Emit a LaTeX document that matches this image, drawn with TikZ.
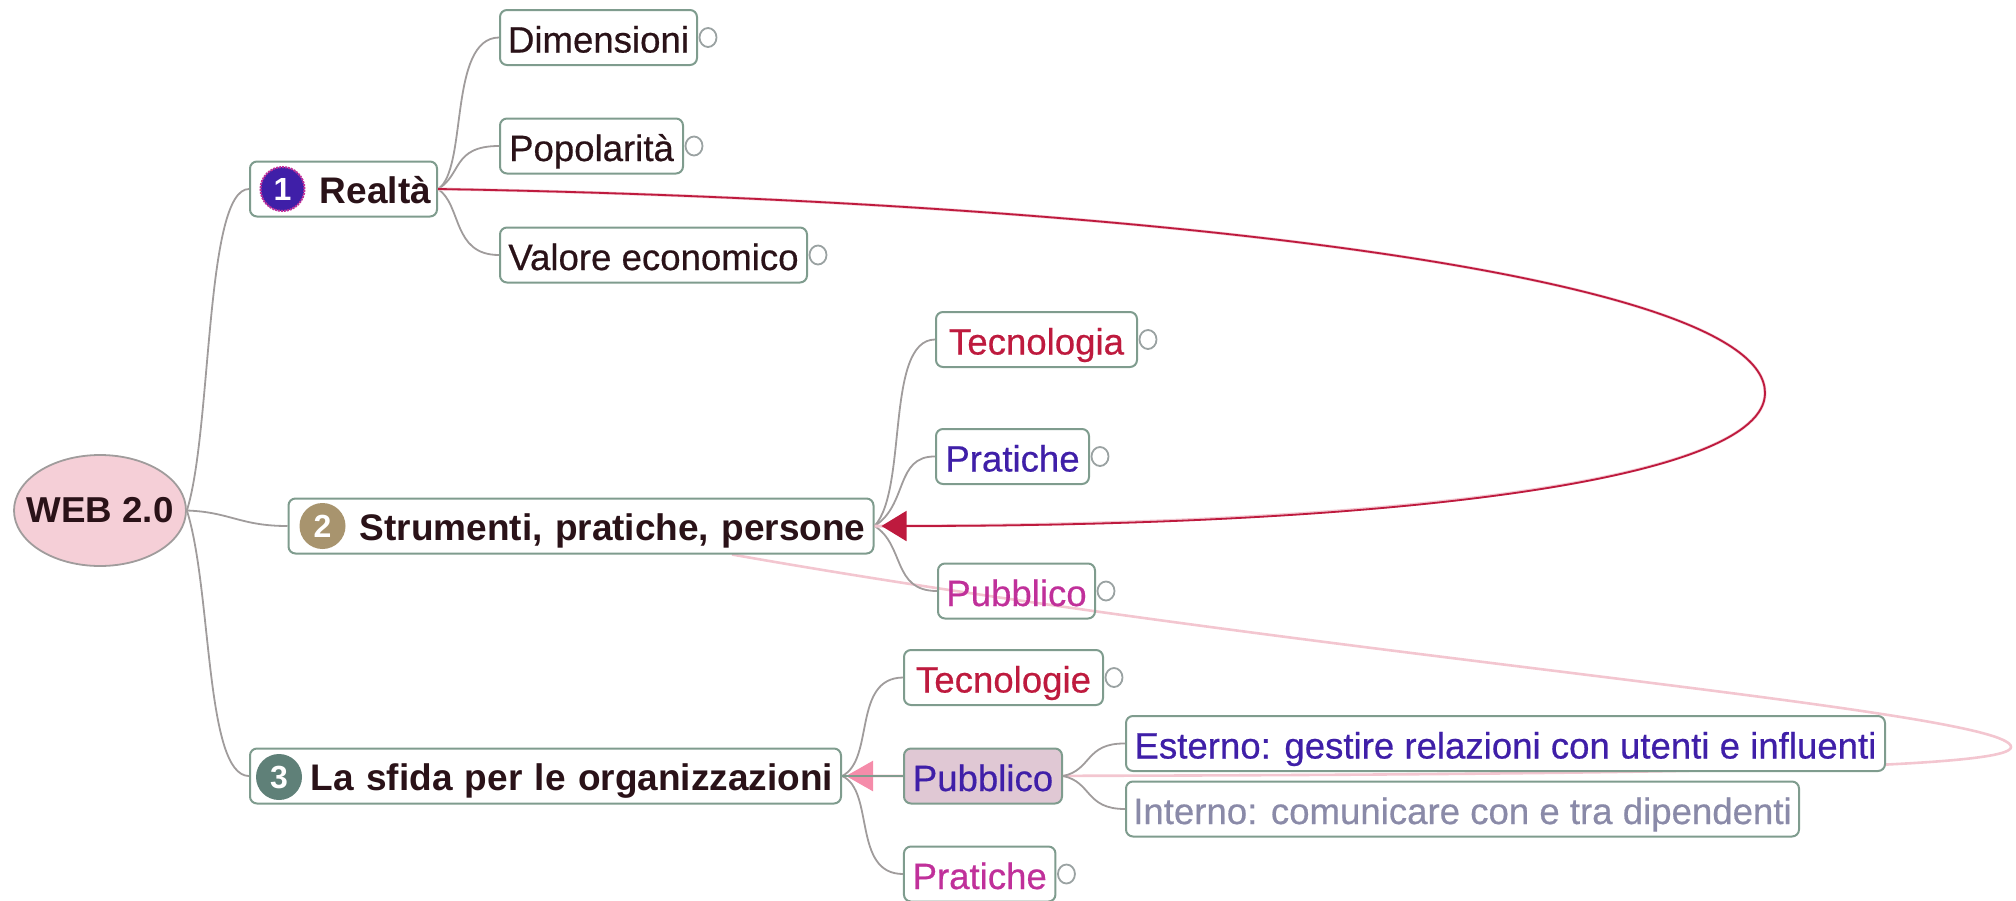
\documentclass[tikz,border=0pt]{standalone}
\usepackage{fontspec}
\setmainfont{Liberation Sans}
\newfontfamily\regf{Liberation Sans}[FakeBold=0.5]
\usetikzlibrary{arrows.meta,shapes.geometric}
\pgfdeclarelayer{bg}
\pgfsetlayers{bg,main}
\definecolor{ink}{HTML}{2A1218}
\definecolor{bord}{HTML}{7F9C8E}
\definecolor{conn}{HTML}{A09C9C}
\definecolor{crim}{HTML}{BE1A3E}
\definecolor{blu}{HTML}{3F1FA8}
\definecolor{mag}{HTML}{C0309A}
\definecolor{gry}{HTML}{8A8AA8}
\definecolor{ringc}{HTML}{9AA2A2}
\definecolor{pinkl}{HTML}{F3C6D0}
\definecolor{pinka}{HTML}{F58CAA}
\definecolor{tan}{HTML}{A8946E}
\definecolor{sage}{HTML}{5F8078}
\definecolor{lilac}{HTML}{E0C8D4}
\tikzset{
  x=1pt,y=-1pt,
  box/.style={draw=bord,line width=2pt,rounded corners=7pt,fill=white,inner sep=0pt,
    text height=38pt,text depth=8pt,minimum height=55pt,text=ink,font=\fontsize{36.6}{40}\regf},
  main/.style={box,text height=36pt,font=\fontsize{37}{40}\selectfont\bfseries,align=right},
  link/.style={draw=conn,line width=1.8pt},
  dotc/.style={ellipse,draw=ringc,line width=1.8pt,fill=white,minimum width=17pt,minimum height=19pt,inner sep=0pt},
  icon/.style={circle,minimum size=46pt,inner sep=0pt,text=white,font=\fontsize{32}{34}\selectfont\bfseries},
}
\begin{document}
\begin{tikzpicture}
\useasboundingbox (0,0) rectangle (2016,900);
% nodes
\node[draw=conn,line width=1.8pt,ellipse,fill=pinkl!85!white,minimum width=172pt,minimum height=111pt,inner sep=0pt,
  text=ink,font=\fontsize{36}{40}\selectfont\bfseries] (root) at (100,510.5) {\makebox[0pt][c]{\scalebox{1.02}[1]{WEB 2.0}}};
\node[main,minimum width=187pt,text width=175pt] (realta) at (343.5,189) {Realtà};
\node[main,minimum width=585pt,text width=569pt] (strum) at (581,526) {Strumenti, pratiche, persone};
\node[main,minimum width=591pt,text width=575pt] (sfida) at (545.5,776) {La sfida per le organizzazioni};
\node[icon,fill=blu,draw=mag,densely dotted,line width=2pt,minimum size=44pt] (i1) at (282.5,189) {1};
\node[icon,fill=tan] (i2) at (322.5,526) {2};
\node[icon,fill=sage] (i3) at (279,777) {3};

\node[box,minimum width=197pt] (dim) at (598.5,37.5) {Dimensioni};
\node[box,minimum width=183pt] (pop) at (591.5,146) {Popolarità};
\node[box,minimum width=307pt] (val) at (653.5,255) {Valore economico};
\node[box,minimum width=201pt,text=crim] (tecn) at (1036.5,339.5) {Tecnologia};
\node[box,minimum width=153pt,text=blu] (prat) at (1012.5,456.5) {Pratiche};
\node[box,minimum width=157pt,text=mag,fill=none] (pub) at (1016.5,591) {Pubblico};
\node[box,minimum width=199pt,text=crim] (tecl) at (1003.5,677.5) {Tecnologie};
\node[box,minimum width=158pt,text=blu,fill=lilac] (pubb) at (983,776) {Pubblico};
\node[box,minimum width=151.5pt,text=mag] (prat3) at (979.7,874) {Pratiche};
\node[box,minimum width=759pt,text=blu] (est) at (1505.5,743.5) {Esterno: gestire relazioni con utenti e influenti};
\node[box,minimum width=673pt,text=gry] (int) at (1462.5,809) {Interno: comunicare con e tra dipendenti};
% small circles
\foreach \n in {dim,pop,val,tecn,prat,pub,tecl,prat3}
  \node[dotc] (c\n) at ([xshift=10pt]\n.east) {};
% tree links
\draw[link] (root.east) .. controls (212,430) and (205,189) .. (realta.west);
\draw[link] (root.east) .. controls (230,512) and (240,526) .. (strum.west);
\draw[link] (root.east) .. controls (212,590) and (205,776) .. (sfida.west);
\draw[link] (realta.east) .. controls (468,170) and (448,38) .. (dim.west);
\draw[link] (realta.east) .. controls (462,175) and (452,146) .. (pop.west);
\draw[link] (realta.east) .. controls (462,205) and (452,255) .. (val.west);
\draw[link] (strum.east) .. controls (908,490) and (885,340) .. (tecn.west);
\draw[link] (strum.east) .. controls (908,505) and (895,456) .. (prat.west);
\draw[link] (strum.east) .. controls (905,545) and (892,591) .. (pub.west);
\draw[link] (sfida.east) .. controls (875,760) and (852,678) .. (tecl.west);
\draw[link] (sfida.east) .. controls (875,790) and (852,874) .. (prat3.west);
\draw[link] (pubb.east) .. controls (1092,770) and (1085,743) .. (est.west);
\draw[link] (pubb.east) .. controls (1092,782) and (1085,809) .. (int.west);
% relations
\begin{pgfonlayer}{bg}
\draw[pinkl,line width=2.6pt,-{Triangle[length=27pt,width=30pt,color=pinka]}]
  ([xshift=151pt]strum.south) .. controls (1300,655) and (2011,710) .. (2011,747)
  .. controls (2011,765) and (1800,776) .. ([xshift=4pt]sfida.east);
\end{pgfonlayer}
\draw[draw=bord,line width=2pt] (sfida.east) -- (pubb.west);
\draw[pinkl,line width=3pt] (realta.east) .. controls (1100,200) and (1765,270) .. (1765,393)
  .. controls (1765,480) and (1400,526) .. (strum.east);
\draw[crim,line width=1.8pt,-{Triangle[length=25pt,width=30pt]}]
  (realta.east) .. controls (1100,200) and (1765,270) .. (1765,393)
  .. controls (1765,480) and (1400,526) .. ([xshift=7pt]strum.east);
\end{tikzpicture}
\end{document}
